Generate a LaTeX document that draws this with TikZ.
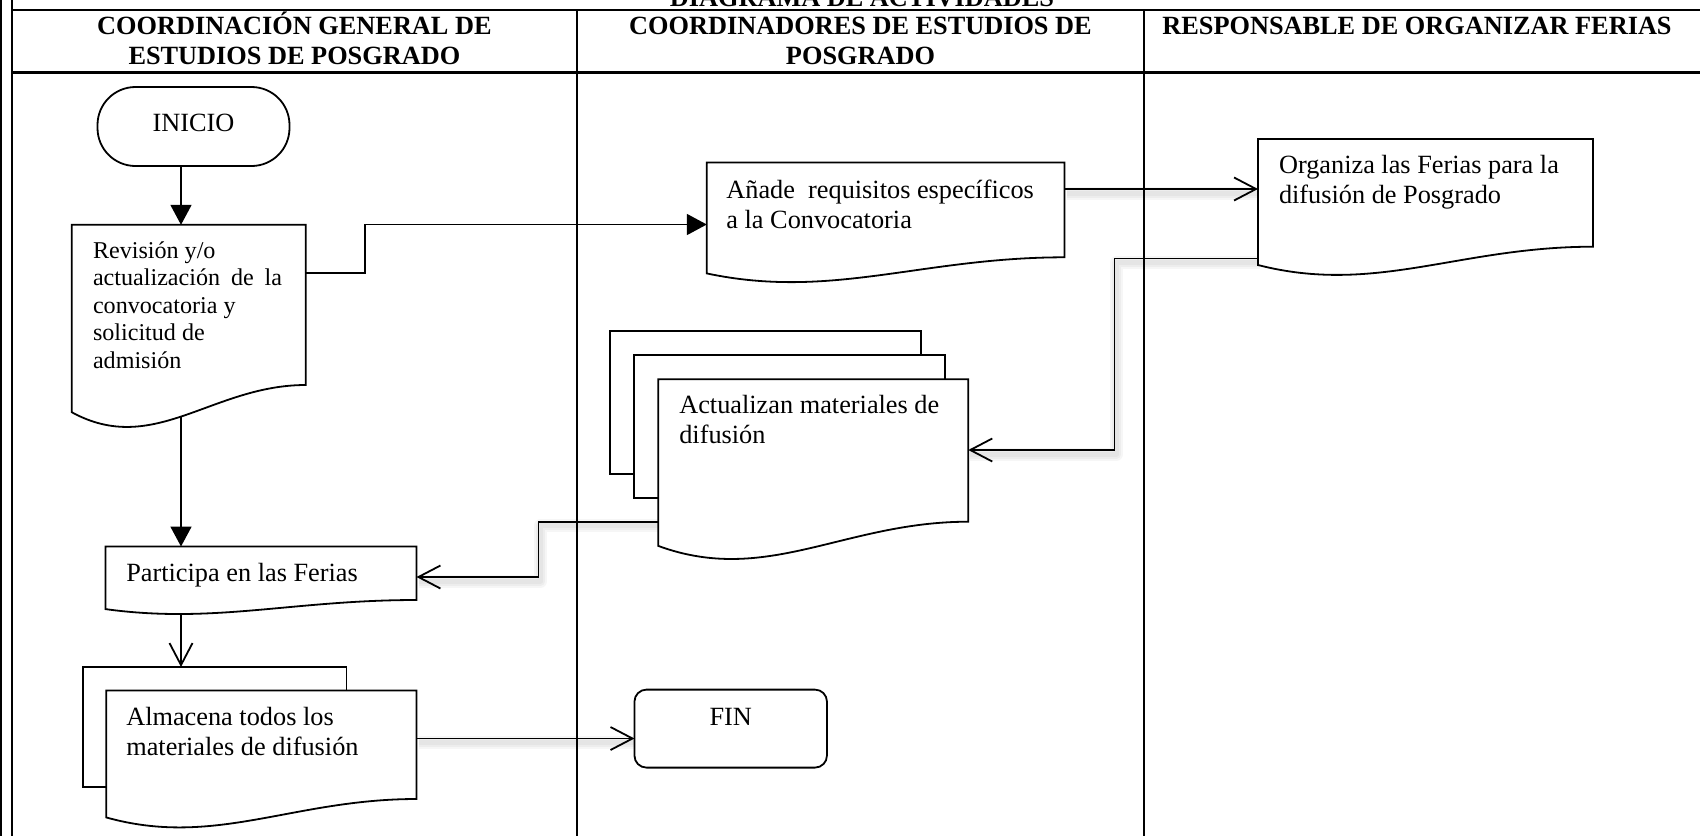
\documentclass[tikz,border=0pt]{standalone}
\usepackage{fontspec}
\setmainfont{Liberation Serif}
\usetikzlibrary{arrows.meta}
\pgfdeclarelayer{frame}
\pgfdeclarelayer{links}
\pgfsetlayers{frame,links,main}

% Document sheet with a wavy lower edge.
% #1 name, (#2,#3) top left corner, (#4,#5) lower end of the right side
\newcommand\docsheet[5]{%
  \pgfmathsetmacro\dw{#4-#2}%
  \pgfmathsetmacro\dh{#5-#3}%
  \node[sheetarea, minimum width=\dw pt, minimum height=\dh pt] (#1) at (#2,#3) {};
  \draw[line width=1.8pt, fill=white, line join=miter]
    (#1.north west) -- (#1.north east) -- (#1.south east)
    .. controls (#4-0.4*\dw,#5) and (#2+0.35*\dw,#5+0.45*\dh) .. (#2,#5+0.17*\dh) -- cycle;
}

% Soft drop shadow under a connector: a few faint strokes of falling width
\newcommand\shadowpath[1]{%
  \foreach \w in {13,9,5} {\draw[softshadow, line width=\w pt] #1;}%
}

\tikzset{
  sheet/.style={draw, line width=1.8pt, fill=white, inner sep=0pt, outer sep=0pt, anchor=north west},
  sheetarea/.style={inner sep=0pt, outer sep=0pt, anchor=north west},
  terminal/.style={draw, line width=1.8pt, fill=white, inner sep=0pt, outer sep=0pt,
    minimum width=192pt, minimum height=79pt, text height=17.4pt,
    font=\fontsize{26.3}{30}\selectfont},
  txt/.style={anchor=base west, inner sep=0pt, outer sep=0pt, font=\fontsize{26.3}{30}\selectfont},
  head/.style={anchor=base, inner sep=0pt, outer sep=0pt, font=\fontsize{26.3}{30}\selectfont\bfseries},
  flow/.style={line width=1.8pt},
  solidtip/.style={-{Triangle[length=20pt,width=21pt]}},
  opentip/.style={-{Straight Barb[length=22pt,width=23pt]}},
  softshadow/.style={draw=black, opacity=0.035, line join=round,
    transform canvas={xshift=2pt, yshift=-4pt}},
}

\begin{document}
\begin{tikzpicture}[x=1pt,y=-1pt]
\useasboundingbox (0,0) rectangle (1700,836);

% ---------- table frame and headings ----------
\begin{pgfonlayer}{frame}
  \draw[line width=2.4pt] (1.2,0) -- (1.2,836);
  \draw[line width=1.8pt] (11.8,0) -- (11.8,836);
  \draw[line width=2.6pt] (11.8,10) -- (1700,10);
  \draw[line width=2.6pt] (11.8,72.2) -- (1700,72.2);
  \draw[line width=1.8pt] (577,10) -- (577,836);
  \draw[line width=1.8pt] (1144,10) -- (1144,836);
\end{pgfonlayer}

\node[head] (title) at (862,6) {DIAGRAMA DE ACTIVIDADES};
\node[head] (h1) at (294.4,34) {\begin{tabular}[t]{@{}c@{}}COORDINACIÓN GENERAL DE\\ ESTUDIOS DE POSGRADO\end{tabular}};
\node[head] (h2) at (860.5,34) {\begin{tabular}[t]{@{}c@{}}COORDINADORES DE ESTUDIOS DE\\ POSGRADO\end{tabular}};
\node[head] (h3) at (1417,34) {RESPONSABLE DE ORGANIZAR FERIAS};

% ---------- activities ----------
\node[terminal, rounded corners=38pt, text depth=8.4pt] (inicio) at (193.5,126.5) {INICIO};

\docsheet{rev}{71.8}{224.8}{305.7}{385}
\node[txt] (t-rev) at (93,258) {\fontsize{24.1}{27.5}\selectfont\begin{tabular}[t]{@{}l@{}}Revisión y/o\\ \makebox[189pt][s]{actualización de la}\\ convocatoria y\\ solicitud de\\ admisión\end{tabular}};

\docsheet{add}{706.8}{162.5}{1064.5}{257.3}
\node[txt] (t-add) at (726.4,198.3) {\begin{tabular}[t]{@{}l@{}}Añade\ \ requisitos específicos\\ a la Convocatoria\end{tabular}};

\docsheet{org}{1258}{139}{1593}{246.7}
\node[txt] (t-org) at (1279,173.3) {\begin{tabular}[t]{@{}l@{}}Organiza las Ferias para la\\ difusión de Posgrado\end{tabular}};

\node[sheet, minimum width=311pt, minimum height=143pt] (actback) at (610,331) {};
\node[sheet, minimum width=311pt, minimum height=143pt] (actmid) at (634,355) {};
\docsheet{act}{658.3}{379.3}{968.3}{521.7}
\node[txt] (t-act) at (679.3,413.3) {\begin{tabular}[t]{@{}l@{}}Actualizan materiales de\\ difusión\end{tabular}};

\docsheet{par}{105.5}{546.5}{416.5}{600}
\node[txt] (t-par) at (126.3,581.7) {Participa en las Ferias};

\node[sheet, minimum width=263.5pt, minimum height=120pt] (almback) at (83,667) {};
\docsheet{alm}{106.3}{690.5}{416.5}{799}
\node[txt] (t-alm) at (126.3,725) {\begin{tabular}[t]{@{}l@{}}Almacena todos los\\ materiales de difusión\end{tabular}};

\node[terminal, rounded corners=12pt, minimum width=192.5pt, minimum height=78pt, text depth=24.6pt] (fin) at (730.7,728.6) {FIN};

% ---------- connectors ----------
\begin{pgfonlayer}{links}
  \shadowpath{(add.east |- 0,189) -- (org.west |- 0,189)}
  \shadowpath{(org.west |- 0,258.5) -| (1114.5,450) -- (act.east |- 0,450)}
  \shadowpath{(act.south west) -| (538.5,577) -- (par.east |- 0,577)}
  \shadowpath{(alm.east |- 0,738.5) -- (fin.west |- 0,738.5)}

  \draw[flow, solidtip] (inicio.south -| 181,0) -- (rev.north -| 181,0);
  \draw[flow, solidtip] (rev.east |- 0,273) -| (365,224.5) -- (add.west |- 0,224.5);
  \draw[flow, opentip] (add.east |- 0,189) -- (org.west |- 0,189);
  \draw[flow, opentip] (org.west |- 0,258.5) -| (1114.5,450) -- (act.east |- 0,450);
  \draw[flow, opentip] (act.south west) -| (538.5,577) -- (par.east |- 0,577);
  \draw[flow, solidtip] (rev.south -| 181,0) -- (par.north -| 181,0);
  \draw[flow, opentip] (par.south -| 181,0) -- (almback.north -| 181,0);
  \draw[flow, opentip] (alm.east |- 0,738.5) -- (fin.west |- 0,738.5);
\end{pgfonlayer}
\end{tikzpicture}
\end{document}
